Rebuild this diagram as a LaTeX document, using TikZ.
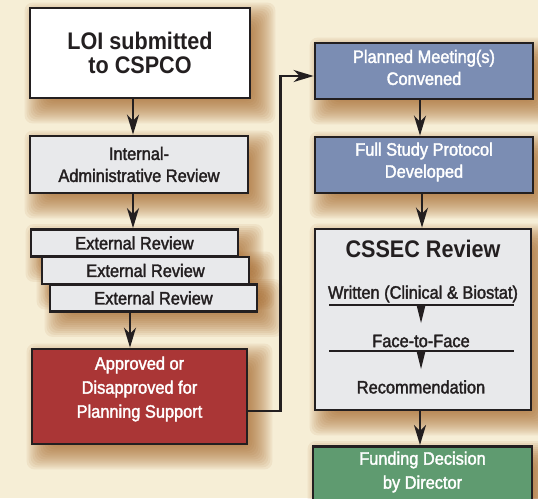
\documentclass[tikz,border=0pt]{standalone}
\usepackage{fontspec}
\setmainfont{Liberation Sans}[FakeStretch=0.9]
\newfontfamily\bodyfam{Liberation Sans}[FakeStretch=0.91, FakeBold=1.9]
\usetikzlibrary{arrows.meta}
\pgfdeclarelayer{bglayer}
\pgfdeclarelayer{shadowlayer}
\pgfsetlayers{bglayer,shadowlayer,main}
\definecolor{bgc}{HTML}{F6EED6}
\definecolor{shadowc}{HTML}{9E5A1A}
\definecolor{ink}{HTML}{231F20}
\definecolor{grayc}{HTML}{E8E9EB}
\definecolor{redc}{HTML}{AA3636}
\definecolor{bluec}{HTML}{7B8DB3}
\definecolor{greenc}{HTML}{5F9B70}
\newcommand\bodyfont{\bodyfam\fontsize{18}{22}\selectfont}
\newcommand\titlefont{\fontsize{24}{24}\selectfont\bfseries}
\newcommand\dropshadow[1]{%
  \begin{pgfonlayer}{shadowlayer}
  \foreach \rr in {0,2,...,24}{%
    \fill[shadowc, fill opacity=0.08, rounded corners=8pt]
      ([shift={(20-\rr,20-\rr)}]#1.north west) rectangle ([shift={(\rr,\rr)}]#1.south east);}
  \end{pgfonlayer}}
\tikzset{
  flowbox/.style={draw=ink, line width=2.8pt, inner sep=0pt, align=center, text=ink,
                  font=\bodyfont},
  graybox/.style={flowbox, fill=grayc},
  redbox/.style={flowbox, fill=redc, text=white},
  bluebox/.style={flowbox, fill=bluec, text=white},
  greenbox/.style={flowbox, fill=greenc, text=white},
  whitetext/.style={text=white, font=\bodyfont, align=center, inner sep=0pt},
  arr/.style={draw=ink, line width=2.5pt, -{Stealth[length=20pt,width=12pt,inset=6pt]}},
  subline/.style={draw=ink, line width=1.5pt},
  subtext/.style={text=ink, font=\bodyfont, inner sep=0pt}
}
\begin{document}
\begin{tikzpicture}[x=1pt,y=-1pt]
\clip (0,0) rectangle (538,498);
\begin{pgfonlayer}{bglayer}
\fill[bgc] (0,0) rectangle (538,498);
\end{pgfonlayer}

% left column
\node[flowbox, fill=white, minimum width=220pt, minimum height=90pt, font=\titlefont] (loi) at (140,53) {LOI submitted\\to CSPCO};
\node[graybox, minimum width=218pt, minimum height=57pt] (int) at (139,164.5) {Internal-\\Administrative Review};
\node[graybox, minimum width=207pt, minimum height=27pt] (ext3) at (153.5,298) {External Review};
\node[graybox, minimum width=207pt, minimum height=27pt] (ext2) at (145.5,270.5) {External Review};
\node[graybox, minimum width=207pt, minimum height=27pt] (ext1) at (134.5,243) {External Review};
\node[redbox, minimum width=215pt, minimum height=95pt] (red) at (139.5,396.5) {};
\node[whitetext] (redtext) at (139.5,389) {Approved or\\[2pt]Disapproved for\\[2pt]Planning Support};

% right column
\node[bluebox, minimum width=218pt, minimum height=56pt] (plan) at (424,71) {};
\node[whitetext] (plantext) at (424,67.5) {Planned Meeting(s)\\Convened};
\node[bluebox, minimum width=218pt, minimum height=56pt] (full) at (424,165) {};
\node[whitetext] (fulltext) at (424,162) {Full Study Protocol\\Developed};
\node[graybox, minimum width=216pt, minimum height=181pt] (cssec) at (423,319.5) {};
\node[greenbox, minimum width=219pt, minimum height=66pt, anchor=north] (fund) at (422.5,445) {};
\node[whitetext] (fundtext) at (422.5,472) {Funding Decision\\[2pt]by Director};

\dropshadow{loi}
\dropshadow{int}
\dropshadow{ext1}
\dropshadow{ext2}
\dropshadow{ext3}
\dropshadow{red}
\dropshadow{plan}
\dropshadow{full}
\dropshadow{cssec}
\dropshadow{fund}

% CSSEC content
\node[subtext, font=\titlefont] (ctitle) at (423,249) {CSSEC Review};
\node[subtext] (written) at (423,294) {Written (Clinical \& Biostat)};
\node[subtext] (face) at (421,341) {Face-to-Face};
\node[subtext] (rec) at (421,387) {Recommendation};
\coordinate (l1a) at (329,305); \coordinate (l1b) at (514,305);
\coordinate (l2a) at (329,351); \coordinate (l2b) at (514,351);
\draw[subline] (l1a) -- (l1b);
\draw[subline] (l2a) -- (l2b);
\fill[ink] (416.5,305) -- (425.5,305) -- (421,323) -- cycle;
\fill[ink] (416.5,351) -- (425.5,351) -- (421,369) -- cycle;

% connectors
\draw[arr] ([xshift=-7pt]loi.south) -- ([xshift=-7pt]loi.south |- int.north);
\draw[arr] ([xshift=-6pt]int.south) -- ([xshift=-6pt]int.south |- ext1.north);
\draw[arr] ([xshift=-23.5pt]ext3.south) -- ([xshift=-23.5pt]ext3.south |- red.north);
\draw[arr] ([xshift=-4pt]plan.south) -- ([xshift=-4pt]plan.south |- full.north);
\draw[arr] ([xshift=-2pt]full.south) -- ([xshift=-2pt]full.south |- cssec.north);
\draw[arr] ([xshift=-3pt]cssec.south) -- ([xshift=-3pt]cssec.south |- fund.north);
\draw[arr] ([yshift=-14.5pt]red.east) -- ++(32,0) |- ([yshift=-5pt]plan.west);
\end{tikzpicture}
\end{document}
